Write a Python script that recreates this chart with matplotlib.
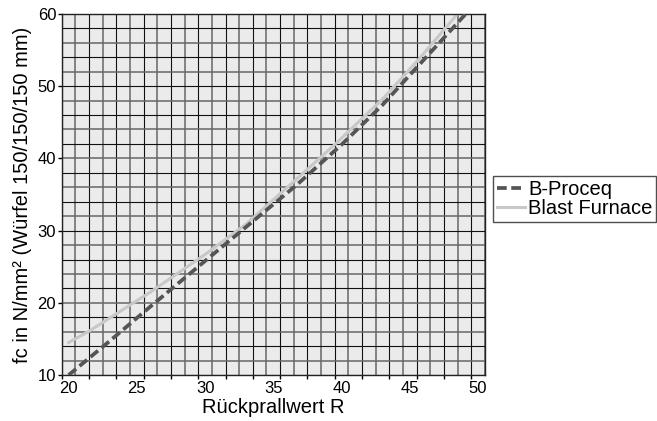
import numpy as np
import matplotlib
matplotlib.use('Agg')
import matplotlib.pyplot as plt

plt.rcParams['font.family'] = ['Liberation Sans', 'DejaVu Sans']

# values
r_proceq = [20, 23, 26, 30, 33, 36.7, 40, 43, 46, 49.1]
fc_proceq = [10, 14.7, 19.5, 25.8, 30.5, 36.3, 41.9, 47.4, 53.6, 60]

r_blast = [20, 21.6, 26, 30, 33, 36.5, 39.5, 43, 45.6, 48.5]
fc_blast = [14.5, 16.2, 21.5, 26.7, 30.9, 36.8, 41.9, 48.2, 53.6, 60]

x_ticks = [20, 25, 30, 35, 40, 45, 50]
y_ticks = [10, 20, 30, 40, 50, 60]

X_MIN, X_MAX = 19.5, 50.5
Y_MIN, Y_MAX = 10, 60


def main():

    fig = plt.figure(figsize=(6.57, 4.21), dpi=100)
    ax = fig.add_axes([0.094, 0.109, 0.644, 0.858])

    ax.set_facecolor('#ebebeb')
    ax.set_xlim(X_MIN, X_MAX)
    ax.set_ylim(Y_MIN, Y_MAX)

    # grid: vertical every 1, horizontal every 2
    xg = np.arange(X_MIN, X_MAX + 0.01, 1.0)
    yg = np.arange(Y_MIN, Y_MAX + 0.01, 2.0)
    for i, x in enumerate(xg):
        c, w = ('#111111', 0.8) if i % 2 == 0 else ('#666666', 1.1)
        ax.axvline(x, color=c, lw=w, zorder=1)
    for i, y in enumerate(yg):
        c, w = ('#111111', 0.8) if i % 2 == 0 else ('#666666', 1.1)
        ax.axhline(y, color=c, lw=w, zorder=1)

    ax.plot(r_proceq, fc_proceq, color='#555555', lw=2.7, dashes=(2.6, 1.2),
            label='B-Proceq', zorder=3)
    ax.plot(r_blast, fc_blast, color='#c8c8c8', lw=2.2,
            label='Blast Furnace', zorder=2)

    ax.set_xticks(x_ticks)
    ax.set_yticks(y_ticks)
    ax.set_xticks(np.arange(X_MIN, X_MAX, 2.0), minor=True)
    ax.tick_params(axis='x', which='major', length=0, pad=4, labelsize=12)
    ax.tick_params(axis='x', which='minor', length=3, width=1, direction='out')
    ax.tick_params(axis='y', which='major', length=3, width=1, pad=1, labelsize=12)

    for s in ax.spines.values():
        s.set_color('#222222')
        s.set_linewidth(1)

    ax.set_xlabel('Rückprallwert R', fontsize=14.5, labelpad=2)
    ax.set_ylabel('fc in N/mm² (Würfel 150/150/150 mm)', fontsize=14.5, labelpad=4)

    leg = fig.legend(loc='upper left', bbox_to_anchor=(0.750, 0.582),
                     fontsize=14.5, handlelength=1.4, handletextpad=0.15,
                     labelspacing=0.0, borderpad=0.2, borderaxespad=0,
                     fancybox=False, frameon=True)
    leg.get_frame().set_edgecolor('#222222')
    leg.get_frame().set_linewidth(1)

    fig.savefig('out.png', dpi=100)


if __name__ == '__main__':
    main()
